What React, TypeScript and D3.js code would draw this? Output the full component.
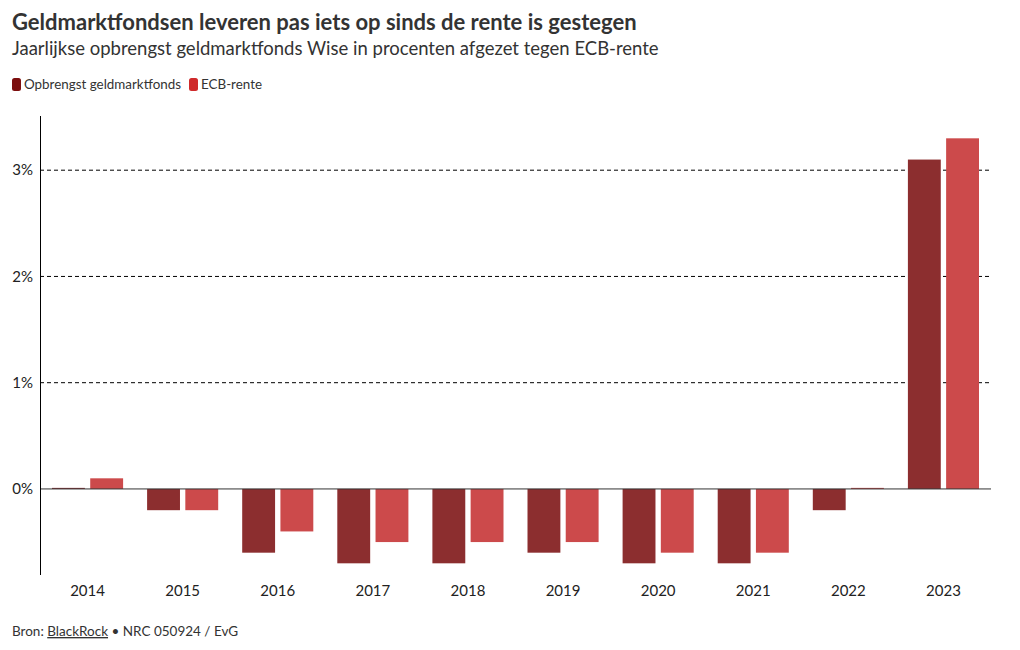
import { useEffect, useRef } from "react";
import * as d3 from "d3";

const years = ["2014", "2015", "2016", "2017", "2018", "2019", "2020", "2021", "2022", "2023"];
const fundReturn = [0.01, -0.2, -0.6, -0.7, -0.7, -0.6, -0.7, -0.7, -0.2, 3.1];
const ecbRate = [0.1, -0.2, -0.4, -0.5, -0.5, -0.5, -0.6, -0.6, 0.01, 3.3];
const seriesNames = ["Opbrengst geldmarktfonds", "ECB-rente"];
const yTicks = [0, 1, 2, 3];

const W = 1020;
const H = 650;
const FONT = "Lato, 'Noto Sans', sans-serif";
const barColors = ["#8c2e2f", "#cc4a4b"];
const legendColors = ["#7c0e0e", "#cf2a2b"];

export default function App() {
  const svgRef = useRef<SVGSVGElement>(null);

  useEffect(() => {
    if (!svgRef.current) return;
    const svg = d3.select(svgRef.current);
    svg.selectAll("*").remove();

    const left = 40;
    const right = 991;
    const top = 116;
    const bottom = 575;

    const x = d3.scaleBand<string>().domain(years).range([left, right]).padding(0);
    const inner = d3.scaleBand<number>().domain([0, 1]).range([12, x.bandwidth() - 12]).paddingInner(0.14);
    const y = d3.scaleLinear().domain([-0.81, 3.51]).range([bottom, top]);

    // titles
    svg.append("text").attr("x", 12).attr("y", 30)
      .attr("font-family", FONT).attr("font-size", 22).attr("font-weight", 700).attr("fill", "#333")
      .text("Geldmarktfondsen leveren pas iets op sinds de rente is gestegen");
    svg.append("text").attr("x", 12).attr("y", 55)
      .attr("font-family", FONT).attr("font-size", 18.5).attr("fill", "#333")
      .text("Jaarlijkse opbrengst geldmarktfonds Wise in procenten afgezet tegen ECB-rente");

    // legend
    const lg = svg.append("g").attr("transform", "translate(12,78)");
    let lx = 0;
    seriesNames.forEach((name, i) => {
      lg.append("rect").attr("x", lx).attr("y", 0).attr("width", 9).attr("height", 13)
        .attr("rx", 2.5).attr("fill", legendColors[i]);
      const t = lg.append("text").attr("x", lx + 12).attr("y", 11)
        .attr("font-family", FONT).attr("font-size", 13.4).attr("fill", "#333").text(name);
      const w = (t.node() as SVGTextElement).getComputedTextLength();
      lx += 12 + w + 8;
    });

    // gridlines
    const grid = svg.append("g");
    yTicks.filter((t) => t !== 0).forEach((t) => {
      grid.append("line").attr("x1", left).attr("x2", right - 1)
        .attr("y1", y(t)).attr("y2", y(t))
        .attr("stroke", "#000").attr("stroke-width", 1).attr("stroke-dasharray", "4,3");
    });

    // y tick labels
    svg.append("g").selectAll("text").data(yTicks).join("text")
      .attr("x", 33).attr("y", (d) => y(d)).attr("dy", "0.35em")
      .attr("text-anchor", "end").attr("font-family", FONT).attr("font-size", 15).attr("fill", "#222")
      .text((d) => `${d}%`);

    // bars
    const groups = svg.append("g").selectAll("g").data(years).join("g")
      .attr("transform", (d) => `translate(${x(d)},0)`);
    [fundReturn, ecbRate].forEach((vals, si) => {
      groups.append("rect")
        .attr("x", inner(si)!)
        .attr("width", inner.bandwidth())
        .attr("y", (_d, i) => y(Math.max(0, vals[i])))
        .attr("height", (_d, i) => Math.abs(y(vals[i]) - y(0)))
        .attr("fill", barColors[si]);
    });

    // zero line
    svg.append("line").attr("x1", left).attr("x2", right)
      .attr("y1", y(0)).attr("y2", y(0)).attr("stroke", "#333").attr("stroke-width", 1);

    // y axis line
    svg.append("line").attr("x1", left + 0.5).attr("x2", left + 0.5)
      .attr("y1", top).attr("y2", bottom).attr("stroke", "#000").attr("stroke-width", 1);

    // x labels
    svg.append("g").selectAll("text").data(years).join("text")
      .attr("x", (d) => x(d)! + x.bandwidth() / 2).attr("y", 596)
      .attr("text-anchor", "middle").attr("font-family", FONT).attr("font-size", 15).attr("fill", "#222")
      .text((d) => d);

    // footer
    const f = svg.append("text").attr("x", 12).attr("y", 636)
      .attr("font-family", FONT).attr("font-size", 13.5).attr("fill", "#333");
    f.append("tspan").text("Bron: ");
    f.append("tspan").attr("text-decoration", "underline").text("BlackRock");
    f.append("tspan").text(" • NRC 050924 / EvG");
  }, []);

  return (
    <svg
      ref={svgRef}
      width={W}
      height={H}
      style={{ position: "absolute", left: 0, top: 0, background: "#fff" }}
    />
  );
}
